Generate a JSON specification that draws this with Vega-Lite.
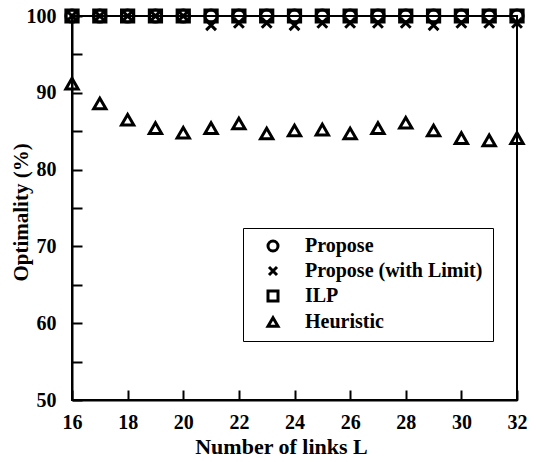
{
  "$schema": "https://vega.github.io/schema/vega-lite/v6.json",
  "width": 445,
  "height": 384,
  "autosize": {"type": "none"},
  "padding": {"left": 72, "top": 16, "right": 19, "bottom": 62},
  "background": "white",
  "config": {
    "view": {"stroke": "black", "strokeWidth": 2},
    "axis": {
      "labelFont": "Liberation Serif",
      "titleFont": "Liberation Serif",
      "labelFontWeight": "bold",
      "titleFontWeight": "bold",
      "labelFontSize": 20,
      "titleFontSize": 21,
      "labelColor": "black",
      "titleColor": "black",
      "domainColor": "black",
      "domainWidth": 2,
      "tickColor": "black",
      "tickWidth": 2,
      "grid": false
    }
  },
  "data": {
    "values": [
      {"s": "Propose", "L": 16, "v": 100}, {"s": "Propose", "L": 17, "v": 100}, {"s": "Propose", "L": 18, "v": 100}, {"s": "Propose", "L": 19, "v": 100}, {"s": "Propose", "L": 20, "v": 100}, {"s": "Propose", "L": 21, "v": 100}, {"s": "Propose", "L": 22, "v": 100}, {"s": "Propose", "L": 23, "v": 100}, {"s": "Propose", "L": 24, "v": 100}, {"s": "Propose", "L": 25, "v": 100}, {"s": "Propose", "L": 26, "v": 100}, {"s": "Propose", "L": 27, "v": 100}, {"s": "Propose", "L": 28, "v": 100}, {"s": "Propose", "L": 29, "v": 100}, {"s": "Propose", "L": 30, "v": 100}, {"s": "Propose", "L": 31, "v": 100}, {"s": "Propose", "L": 32, "v": 100},
      {"s": "Propose (with Limit)", "L": 16, "v": 100}, {"s": "Propose (with Limit)", "L": 17, "v": 100}, {"s": "Propose (with Limit)", "L": 18, "v": 100}, {"s": "Propose (with Limit)", "L": 19, "v": 100}, {"s": "Propose (with Limit)", "L": 20, "v": 100}, {"s": "Propose (with Limit)", "L": 21, "v": 98.8}, {"s": "Propose (with Limit)", "L": 22, "v": 99.1}, {"s": "Propose (with Limit)", "L": 23, "v": 99.1}, {"s": "Propose (with Limit)", "L": 24, "v": 98.8}, {"s": "Propose (with Limit)", "L": 25, "v": 99.1}, {"s": "Propose (with Limit)", "L": 26, "v": 99.1}, {"s": "Propose (with Limit)", "L": 27, "v": 99.1}, {"s": "Propose (with Limit)", "L": 28, "v": 99.1}, {"s": "Propose (with Limit)", "L": 29, "v": 98.8}, {"s": "Propose (with Limit)", "L": 30, "v": 99.1}, {"s": "Propose (with Limit)", "L": 31, "v": 99.1}, {"s": "Propose (with Limit)", "L": 32, "v": 99.1},
      {"s": "ILP", "L": 16, "v": 100}, {"s": "ILP", "L": 17, "v": 100}, {"s": "ILP", "L": 18, "v": 100}, {"s": "ILP", "L": 19, "v": 100}, {"s": "ILP", "L": 20, "v": 100}, {"s": "ILP", "L": 21, "v": 100}, {"s": "ILP", "L": 22, "v": 100}, {"s": "ILP", "L": 23, "v": 100}, {"s": "ILP", "L": 24, "v": 100}, {"s": "ILP", "L": 25, "v": 100}, {"s": "ILP", "L": 26, "v": 100}, {"s": "ILP", "L": 27, "v": 100}, {"s": "ILP", "L": 28, "v": 100}, {"s": "ILP", "L": 29, "v": 100}, {"s": "ILP", "L": 30, "v": 100}, {"s": "ILP", "L": 31, "v": 100}, {"s": "ILP", "L": 32, "v": 100},
      {"s": "Heuristic", "L": 16, "v": 91.2}, {"s": "Heuristic", "L": 17, "v": 88.6}, {"s": "Heuristic", "L": 18, "v": 86.5}, {"s": "Heuristic", "L": 19, "v": 85.4}, {"s": "Heuristic", "L": 20, "v": 84.8}, {"s": "Heuristic", "L": 21, "v": 85.4}, {"s": "Heuristic", "L": 22, "v": 86.0}, {"s": "Heuristic", "L": 23, "v": 84.7}, {"s": "Heuristic", "L": 24, "v": 85.1}, {"s": "Heuristic", "L": 25, "v": 85.2}, {"s": "Heuristic", "L": 26, "v": 84.7}, {"s": "Heuristic", "L": 27, "v": 85.4}, {"s": "Heuristic", "L": 28, "v": 86.1}, {"s": "Heuristic", "L": 29, "v": 85.1}, {"s": "Heuristic", "L": 30, "v": 84.1}, {"s": "Heuristic", "L": 31, "v": 83.8}, {"s": "Heuristic", "L": 32, "v": 84.1}
    ]
  },
  "mark": {"type": "point", "filled": false, "strokeWidth": 3, "size": 150, "clip": false, "opacity": 1},
  "encoding": {
    "x": {
      "field": "L", "type": "quantitative",
      "scale": {"domain": [16, 32], "nice": false, "zero": false},
      "axis": {"values": [16, 18, 20, 22, 24, 26, 28, 30, 32], "tickSize": -10, "labelPadding": 22, "labelFlush": false, "title": "Number of  links  L", "titleFontSize": 22, "titleX": 209, "titleY": 53, "titleAlign": "center", "titleBaseline": "alphabetic", "titleAnchor": null}
    },
    "y": {
      "field": "v", "type": "quantitative",
      "scale": {"domain": [50, 100], "nice": false, "zero": false},
      "axis": {"values": [50, 55, 60, 65, 70, 75, 80, 85, 90, 95, 100], "labelExpr": "datum.value % 10 === 0 ? datum.label : ''", "tickSize": -10, "labelPadding": 26, "labelFlush": false, "title": "Optimality (%)", "titleX": -51, "titleY": 196, "titleAngle": 270, "titleAlign": "center", "titleBaseline": "middle", "titleFontSize": 21}
    },
    "shape": {
      "field": "s", "type": "nominal",
      "sort": ["Propose", "Propose (with Limit)", "ILP", "Heuristic"],
      "scale": {"domain": ["Propose", "Propose (with Limit)", "ILP", "Heuristic"], "range": ["circle", "M-0.8,-0.8L0.8,0.8M0.8,-0.8L-0.8,0.8", "square", "triangle-up"]},
      "legend": {
        "title": " ",
        "titleOrient": "right",
        "titlePadding": 3,
        "titleFontSize": 14,
        "orient": "none",
        "legendX": 171,
        "legendY": 212,
        "strokeColor": "black",
        "padding": 8,
        "labelFont": "Liberation Serif",
        "labelFontWeight": "bold",
        "labelFontSize": 20,
        "labelColor": "black",
        "labelLimit": 300,
        "symbolSize": 100,
        "symbolStrokeWidth": 3,
        "symbolStrokeColor": "black",
        "symbolFillColor": "transparent",
        "rowPadding": 4,
        "labelOffset": 22,
        "symbolOffset": 12
      }
    },
    "color": {"value": "black"}
  }
}
